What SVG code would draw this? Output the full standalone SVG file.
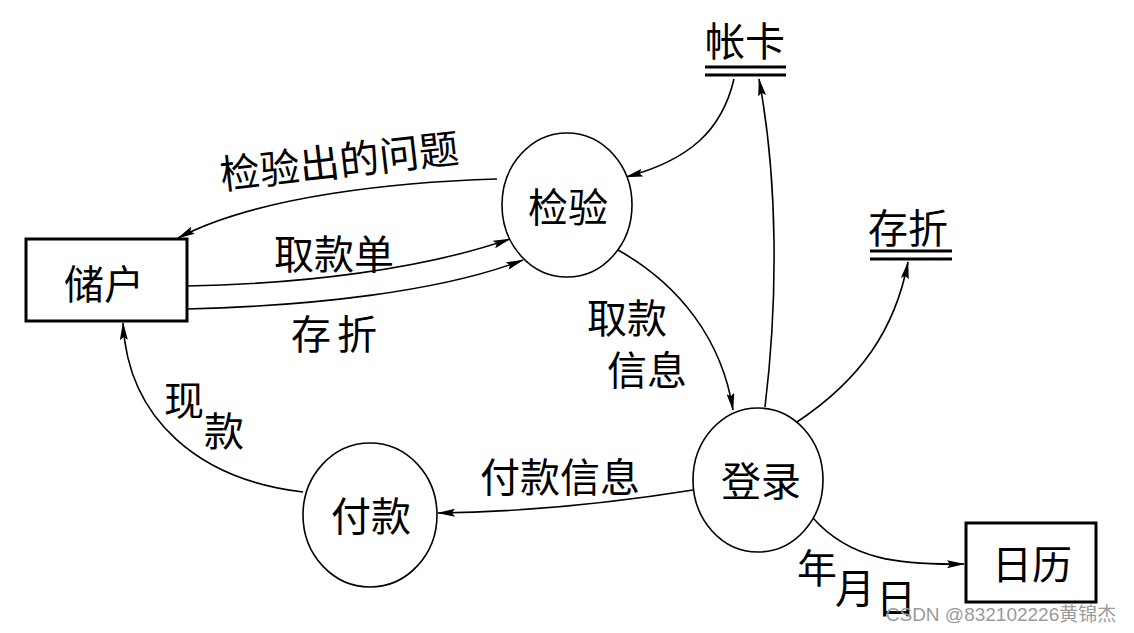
<svg xmlns="http://www.w3.org/2000/svg" width="1134" height="633" viewBox="0 0 1134 633">
<defs>
<marker id="arr" viewBox="0 0 18 8" markerWidth="18" markerHeight="8" refX="17" refY="4" orient="auto" markerUnits="userSpaceOnUse">
<path d="M0,0 L18,4 L0,8 L3,4 z" fill="#000"/>
</marker>
<style>
.t{font-family:"Noto Sans CJK SC","Noto Sans",sans-serif;font-size:40px;fill:#000;text-anchor:middle;dominant-baseline:central}
.box{fill:#fff;stroke:#000;stroke-width:3}
.proc{fill:#fff;stroke:#000;stroke-width:1.6}
.store{stroke:#000;stroke-width:3}
.c{fill:none;stroke:#000;stroke-width:1.6;marker-end:url(#arr)}
.wm{font-family:"Liberation Sans","Noto Sans CJK SC",sans-serif;font-size:19px;fill:#9a9a9a;text-anchor:middle;dominant-baseline:central}
</style>
</defs>
<rect width="1134" height="633" fill="#fff"/>
<g id="connectors">
<path class="c" d="M 497 179 C 400 182, 260 195, 178 238"/>
<path class="c" d="M 187 286 C 300 284, 420 270, 510 239"/>
<path class="c" d="M 187 309 C 310 306, 440 292, 523 260"/>
<path class="c" d="M 734 79 C 722 130, 690 160, 626 177"/>
<path class="c" d="M 765 407 C 778 300, 778 180, 759 79"/>
<path class="c" d="M 618 250 C 680 285, 722 340, 733 410"/>
<path class="c" d="M 797 422 C 860 380, 895 330, 908 262"/>
<path class="c" d="M 693 490 C 600 505, 510 512, 438 513"/>
<path class="c" d="M 303 492 C 200 480, 128 420, 123 323"/>
<path class="c" d="M 813 518 C 850 560, 900 565, 964 564"/>
</g>
<g id="labels">
<text class="t" transform="translate(339,159) rotate(-6.5)">检验出的问题</text>
<text class="t" x="334" y="252">取款单</text>
<text class="t" x="337" y="332" letter-spacing="6">存折</text>
<text class="t" x="627" y="316">取款</text>
<text class="t" x="647" y="368">信息</text>
<text class="t" x="184" y="398">现</text>
<text class="t" x="224" y="429">款</text>
<text class="t" x="560" y="475">付款信息</text>
<text class="t" x="817" y="566">年</text>
<text class="t" x="855" y="586">月</text>
<text class="t" x="896" y="596">日</text>
</g>
<g id="node-chuhu">
<rect class="box" x="26" y="239" width="161" height="82"/>
<text class="t" x="104" y="282">储户</text>
</g>
<g id="node-jianyan">
<ellipse class="proc" cx="567" cy="205" rx="65" ry="72"/>
<text class="t" x="568" y="205">检验</text>
</g>
<g id="node-dengLu">
<ellipse class="proc" cx="758" cy="480" rx="65" ry="72"/>
<text class="t" x="761" y="479">登录</text>
</g>
<g id="node-fukuan">
<ellipse class="proc" cx="370" cy="515" rx="67" ry="72"/>
<text class="t" x="371" y="514">付款</text>
</g>
<g id="node-rili">
<rect class="box" x="966" y="523" width="130" height="79"/>
<text class="t" x="1032" y="562">日历</text>
</g>
<g id="node-zhangka">
<text class="t" x="745" y="39">帐卡</text>
<line class="store" x1="705" y1="67" x2="786" y2="67"/>
<line class="store" x1="705" y1="75" x2="786" y2="75"/>
</g>
<g id="node-cunzhe">
<text class="t" x="908" y="226">存折</text>
<line class="store" x1="870" y1="251" x2="952" y2="251"/>
<line class="store" x1="870" y1="259" x2="952" y2="259"/>
</g>
<text class="wm" x="1001" y="614">CSDN @832102226黄锦杰</text>
</svg>
